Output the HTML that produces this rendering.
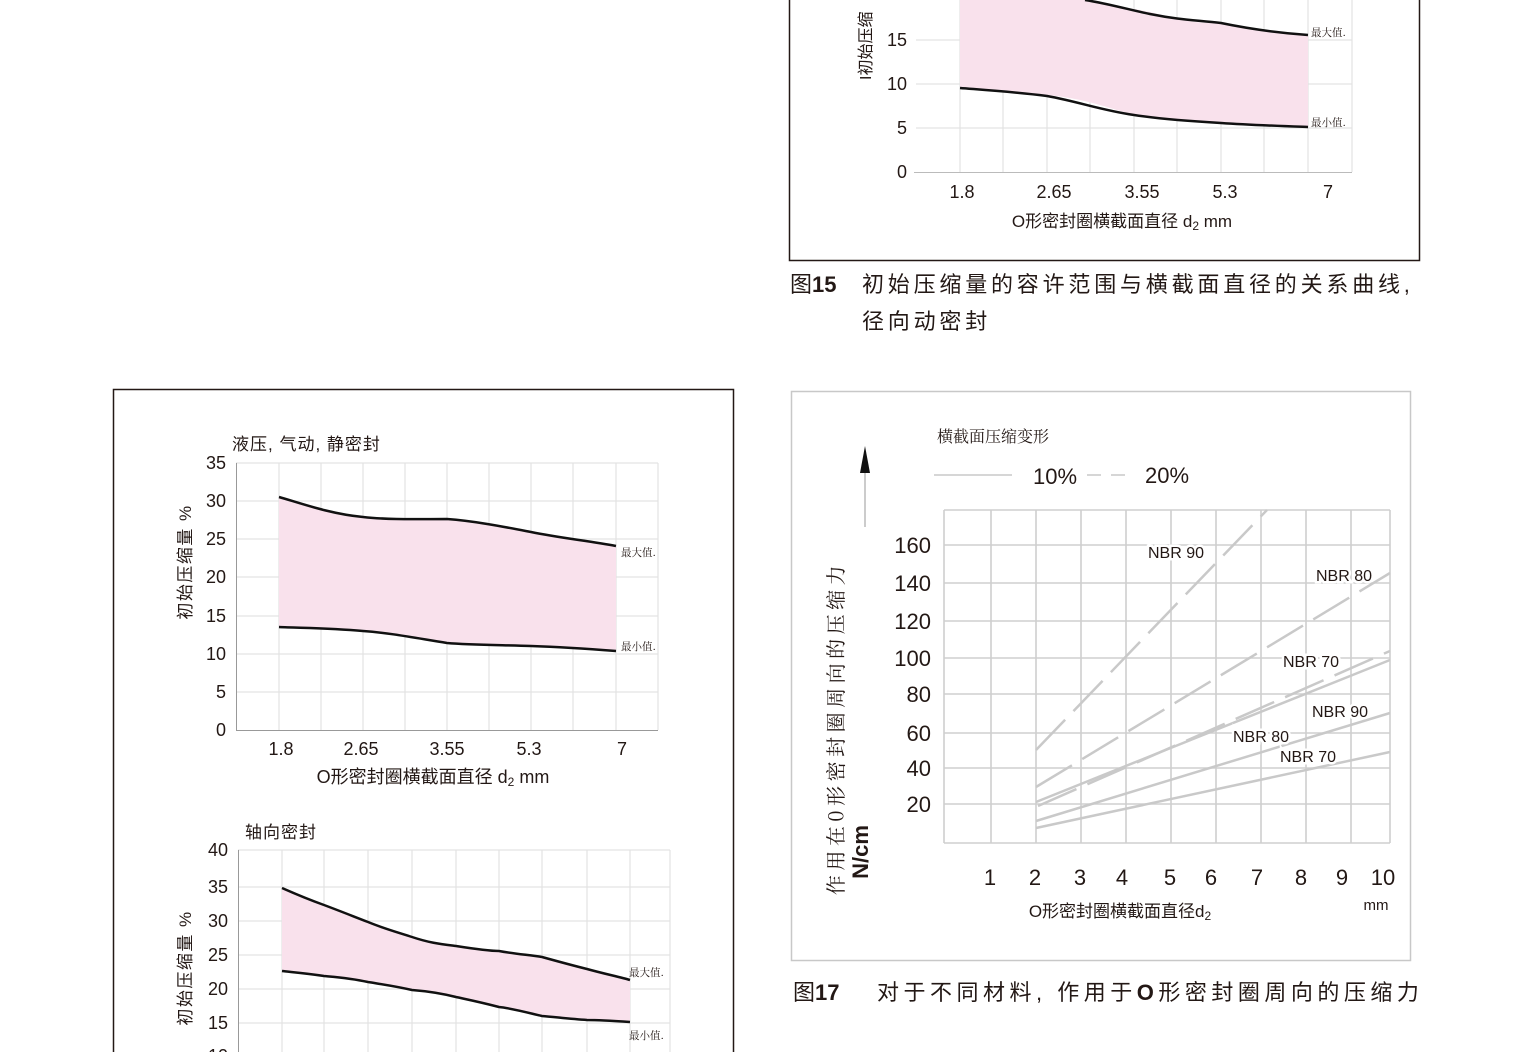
<!DOCTYPE html>
<html><head><meta charset="utf-8"><style>
html,body{margin:0;padding:0;background:#fff;}
svg{display:block;}
text{font-family:"Liberation Sans","Noto Sans CJK SC",sans-serif;fill:#231815;}
.s{font-family:"Noto Serif CJK SC","Liberation Serif",serif;}
</style></head><body>
<svg width="1524" height="1052" viewBox="0 0 1524 1052" xmlns="http://www.w3.org/2000/svg">
<rect width="1524" height="1052" fill="#fff"/>

<!-- ===== Fig 15 (top right) ===== -->
<rect x="789.5" y="-10" width="630" height="270.5" fill="none" stroke="#231815" stroke-width="1.5"/>
<g stroke="#e3e3e3" stroke-width="1.2">
<line x1="916" y1="-4" x2="1352" y2="-4"/><line x1="916" y1="40" x2="1352" y2="40"/>
<line x1="916" y1="84" x2="1352" y2="84"/><line x1="916" y1="128" x2="1352" y2="128"/>
<line x1="960" y1="0" x2="960" y2="172"/><line x1="1003" y1="0" x2="1003" y2="172"/><line x1="1047" y1="0" x2="1047" y2="172"/><line x1="1090" y1="0" x2="1090" y2="172"/><line x1="1134" y1="0" x2="1134" y2="172"/><line x1="1177" y1="0" x2="1177" y2="172"/><line x1="1221" y1="0" x2="1221" y2="172"/><line x1="1264" y1="0" x2="1264" y2="172"/><line x1="1308" y1="0" x2="1308" y2="172"/><line x1="1352" y1="0" x2="1352" y2="172"/>
</g>
<line x1="914" y1="172.5" x2="1352" y2="172.5" stroke="#bbb" stroke-width="1"/>
<path d="M960,0 L1085,0 C1110,5 1130,8 1150,12 C1180,20 1200,25 1221,22 C1250,30 1280,34 1308,35 L1308,127 C1280,126 1250,124 1221,123 C1190,121 1160,118 1134,115 C1100,105 1080,98 1047,95 C1010,91 985,89 960,88 Z" fill="#f9e1ec"/>
<path d="M1085,0 C1110,4 1130,10 1150,14 C1180,20 1195,20 1221,23 C1250,29 1280,33 1308,35" fill="none" stroke="#111" stroke-width="2.5"/>
<path d="M960,88 C985,90 1015,92 1047,96 C1080,102 1100,110 1134,115 C1160,119 1185,121 1221,123 C1250,125 1280,126 1308,127" fill="none" stroke="#111" stroke-width="2.5"/>
<text class="s" x="1311" y="36" font-size="10.5">最大值.</text>
<text class="s" x="1311" y="126" font-size="10.5">最小值.</text>
<g font-size="18" text-anchor="end"><text x="907" y="46">15</text><text x="907" y="90">10</text><text x="907" y="134">5</text><text x="907" y="178">0</text></g>
<text x="0" y="0" font-size="16" transform="translate(871,80) rotate(-90)">I初始压缩</text>
<g font-size="18" text-anchor="middle"><text x="962" y="198">1.8</text><text x="1054" y="198">2.65</text><text x="1142" y="198">3.55</text><text x="1225" y="198">5.3</text><text x="1328" y="198">7</text></g>
<text x="1122" y="227" font-size="17" text-anchor="middle">O形密封圈横截面直径 d<tspan font-size="12" dy="3">2</tspan><tspan dy="-3">  mm</tspan></text>
<text x="790" y="292" font-size="22">图<tspan font-weight="bold">15</tspan></text>
<text x="862" y="292" font-size="22" letter-spacing="3.8">初始压缩量的容许范围与横截面直径的关系曲线,</text>
<text x="862" y="329" font-size="22" letter-spacing="3.8">径向动密封</text>

<!-- ===== Left box ===== -->
<rect x="113.5" y="389.5" width="620" height="680" fill="none" stroke="#231815" stroke-width="1.5"/>
<g stroke="#e3e3e3" stroke-width="1.2">
<line x1="236" y1="463" x2="658" y2="463"/><line x1="236" y1="501" x2="658" y2="501"/><line x1="236" y1="539" x2="658" y2="539"/><line x1="236" y1="577" x2="658" y2="577"/><line x1="236" y1="616" x2="658" y2="616"/><line x1="236" y1="654" x2="658" y2="654"/><line x1="236" y1="692" x2="658" y2="692"/>
<line x1="279" y1="463" x2="279" y2="730"/><line x1="321" y1="463" x2="321" y2="730"/><line x1="363" y1="463" x2="363" y2="730"/><line x1="405" y1="463" x2="405" y2="730"/><line x1="447" y1="463" x2="447" y2="730"/><line x1="489" y1="463" x2="489" y2="730"/><line x1="531" y1="463" x2="531" y2="730"/><line x1="573" y1="463" x2="573" y2="730"/><line x1="616" y1="463" x2="616" y2="730"/><line x1="658" y1="463" x2="658" y2="730"/>
</g>
<line x1="236.5" y1="463" x2="236.5" y2="731" stroke="#999"/><line x1="236" y1="730.5" x2="658" y2="730.5" stroke="#999"/>
<path d="M279,497 C300,503 330,514 363,517 C390,520 420,519 447,519 C475,521 505,527 531,532 C560,538 590,541 616,546 L616,651 C590,649 560,647 531,646 C500,645 470,645 447,643 C410,637 390,633 363,631 C330,628 300,628 279,627 Z" fill="#f9e1ec"/>
<path d="M279,497 C300,503 330,514 363,517 C390,520 420,519 447,519 C475,521 505,527 531,532 C560,538 590,541 616,546" fill="none" stroke="#111" stroke-width="2.5"/>
<path d="M279,627 C300,628 330,628 363,631 C390,633 410,637 447,643 C470,645 500,645 531,646 C560,647 590,649 616,651" fill="none" stroke="#111" stroke-width="2.5"/>
<text class="s" x="621" y="556" font-size="10.5">最大值.</text>
<text class="s" x="621" y="650" font-size="10.5">最小值.</text>
<text x="232" y="450" font-size="17" letter-spacing="1">液压, 气动, 静密封</text>
<g font-size="18" text-anchor="end"><text x="226" y="469">35</text><text x="226" y="507">30</text><text x="226" y="545">25</text><text x="226" y="583">20</text><text x="226" y="622">15</text><text x="226" y="660">10</text><text x="226" y="698">5</text><text x="226" y="736">0</text></g>
<text x="0" y="0" font-size="17" text-anchor="middle" letter-spacing="1.5" transform="translate(191,562) rotate(-90)">初始压缩量 %</text>
<g font-size="18" text-anchor="middle"><text x="281" y="755">1.8</text><text x="361" y="755">2.65</text><text x="447" y="755">3.55</text><text x="529" y="755">5.3</text><text x="622" y="755">7</text></g>
<text x="433" y="783" font-size="18" text-anchor="middle">O形密封圈横截面直径 d<tspan font-size="12" dy="3">2</tspan><tspan dy="-3">  mm</tspan></text>
<g stroke="#e3e3e3" stroke-width="1.2">
<line x1="238" y1="850" x2="670" y2="850"/><line x1="238" y1="887" x2="670" y2="887"/><line x1="238" y1="921" x2="670" y2="921"/><line x1="238" y1="955" x2="670" y2="955"/><line x1="238" y1="989" x2="670" y2="989"/><line x1="238" y1="1023" x2="670" y2="1023"/>
<line x1="282" y1="850" x2="282" y2="1052"/><line x1="324" y1="850" x2="324" y2="1052"/><line x1="368" y1="850" x2="368" y2="1052"/><line x1="412" y1="850" x2="412" y2="1052"/><line x1="456" y1="850" x2="456" y2="1052"/><line x1="499" y1="850" x2="499" y2="1052"/><line x1="542" y1="850" x2="542" y2="1052"/><line x1="587" y1="850" x2="587" y2="1052"/><line x1="630" y1="850" x2="630" y2="1052"/><line x1="670" y1="850" x2="670" y2="1052"/>
</g>
<line x1="238.5" y1="850" x2="238.5" y2="1052" stroke="#999"/>
<path d="M282,888 C300,896 310,900 324,905 C340,911 355,917 368,922 C385,929 400,933 412,937 C430,943 440,944 456,946 C475,949 490,951 499,951 C515,954 530,955 542,957 C560,962 575,966 587,969 C605,974 620,977 630,980 L630,1022 C615,1021 600,1020 587,1020 C570,1019 555,1017 542,1016 C525,1012 510,1008 499,1007 C480,1002 465,999 456,997 C440,993 425,991 412,990 C395,986 380,984 368,982 C350,978 335,977 324,976 C305,973 290,972 282,971 Z" fill="#f9e1ec"/>
<path d="M282,888 C300,896 310,900 324,905 C340,911 355,917 368,922 C385,929 400,933 412,937 C430,943 440,944 456,946 C475,949 490,951 499,951 C515,954 530,955 542,957 C560,962 575,966 587,969 C605,974 620,977 630,980" fill="none" stroke="#111" stroke-width="2.5"/>
<path d="M282,971 C290,972 305,973 324,976 C335,977 350,978 368,982 C380,984 395,986 412,990 C425,991 440,993 456,997 C465,999 480,1002 499,1007 C510,1008 525,1012 542,1016 C555,1017 570,1019 587,1020 C600,1020 615,1021 630,1022" fill="none" stroke="#111" stroke-width="2.5"/>
<text class="s" x="629" y="976" font-size="10.5">最大值.</text>
<text class="s" x="629" y="1039" font-size="10.5">最小值.</text>
<text x="245" y="838" font-size="17" letter-spacing="1">轴向密封</text>
<g font-size="18" text-anchor="end"><text x="228" y="856">40</text><text x="228" y="893">35</text><text x="228" y="927">30</text><text x="228" y="961">25</text><text x="228" y="995">20</text><text x="228" y="1029">15</text><text x="228" y="1062">10</text></g>
<text x="0" y="0" font-size="17" text-anchor="middle" letter-spacing="1.5" transform="translate(191,968) rotate(-90)">初始压缩量 %</text>

<!-- ===== Fig 17 ===== -->
<rect x="791.5" y="391.5" width="619" height="569" fill="none" stroke="#c8c8c8" stroke-width="1.5"/>
<g stroke="#cfcfcf" stroke-width="1.6">
<line x1="944" y1="510" x2="1390" y2="510"/><line x1="944" y1="545" x2="1390" y2="545"/><line x1="944" y1="583" x2="1390" y2="583"/><line x1="944" y1="621" x2="1390" y2="621"/><line x1="944" y1="658" x2="1390" y2="658"/><line x1="944" y1="694" x2="1390" y2="694"/><line x1="944" y1="733" x2="1390" y2="733"/><line x1="944" y1="768" x2="1390" y2="768"/><line x1="944" y1="804" x2="1390" y2="804"/><line x1="944" y1="843" x2="1390" y2="843"/>
<line x1="944" y1="510" x2="944" y2="843"/><line x1="991" y1="510" x2="991" y2="843"/><line x1="1036" y1="510" x2="1036" y2="843"/><line x1="1081" y1="510" x2="1081" y2="843"/><line x1="1126" y1="510" x2="1126" y2="843"/><line x1="1171" y1="510" x2="1171" y2="843"/><line x1="1216" y1="510" x2="1216" y2="843"/><line x1="1261" y1="510" x2="1261" y2="843"/><line x1="1306" y1="510" x2="1306" y2="843"/><line x1="1351" y1="510" x2="1351" y2="843"/><line x1="1390" y1="510" x2="1390" y2="843"/>
</g>
<g stroke="#c9c9c9" stroke-width="2.5" fill="none">
<line x1="1036" y1="750" x2="1267" y2="510" stroke-dasharray="42 12"/>
<line x1="1036" y1="787" x2="1390" y2="573" stroke-dasharray="42 12"/>
<line x1="1038" y1="806" x2="1390" y2="651" stroke-dasharray="42 12"/>
<line x1="1036" y1="802" x2="1390" y2="660"/>
<line x1="1036" y1="821" x2="1390" y2="713"/>
<line x1="1036" y1="828" x2="1390" y2="752"/>
</g>
<g font-size="16" text-anchor="middle" stroke="#fff" stroke-width="5" paint-order="stroke">
<text x="1176" y="558">NBR 90</text><text x="1344" y="581">NBR 80</text><text x="1311" y="667">NBR 70</text><text x="1340" y="717">NBR 90</text><text x="1261" y="742">NBR 80</text><text x="1308" y="762">NBR 70</text>
</g>
<g font-size="22" text-anchor="end"><text x="931" y="553">160</text><text x="931" y="591">140</text><text x="931" y="629">120</text><text x="931" y="666">100</text><text x="931" y="702">80</text><text x="931" y="741">60</text><text x="931" y="776">40</text><text x="931" y="812">20</text></g>
<g font-size="22" text-anchor="middle"><text x="990" y="885">1</text><text x="1035" y="885">2</text><text x="1080" y="885">3</text><text x="1122" y="885">4</text><text x="1170" y="885">5</text><text x="1211" y="885">6</text><text x="1257" y="885">7</text><text x="1301" y="885">8</text><text x="1342" y="885">9</text><text x="1383" y="885">10</text></g>
<text x="1376" y="910" font-size="15" text-anchor="middle">mm</text>
<text x="1120" y="917" font-size="17" text-anchor="middle">O形密封圈横截面直径d<tspan font-size="12" dy="3">2</tspan></text>
<text class="s" x="937" y="442" font-size="16">横截面压缩变形</text>
<line x1="934" y1="475" x2="1012" y2="475" stroke="#c9c9c9" stroke-width="1.5"/>
<text x="1033" y="484" font-size="22">10%</text>
<line x1="1087" y1="475" x2="1130" y2="475" stroke="#c9c9c9" stroke-width="1.5" stroke-dasharray="14 10"/>
<text x="1145" y="483" font-size="22">20%</text>
<line x1="865" y1="462" x2="865" y2="527" stroke="#bbb" stroke-width="1.5"/>
<polygon points="865,446 860,473 870,473" fill="#111"/>
<text class="s" x="0" y="0" font-size="20" text-anchor="middle" letter-spacing="4.5" transform="translate(843,728) rotate(-90)">作用在0形密封圈周向的压缩力</text>
<text x="0" y="0" font-size="22" font-weight="bold" text-anchor="middle" transform="translate(868,852) rotate(-90)">N/cm</text>
<text x="793" y="1000" font-size="22">图<tspan font-weight="bold">17</tspan></text>
<text x="877" y="1000" font-size="22" letter-spacing="4.5">对于不同材料, 作用于<tspan font-weight="bold">O</tspan>形密封圈周向的压缩力</text>
</svg>
</body></html>
